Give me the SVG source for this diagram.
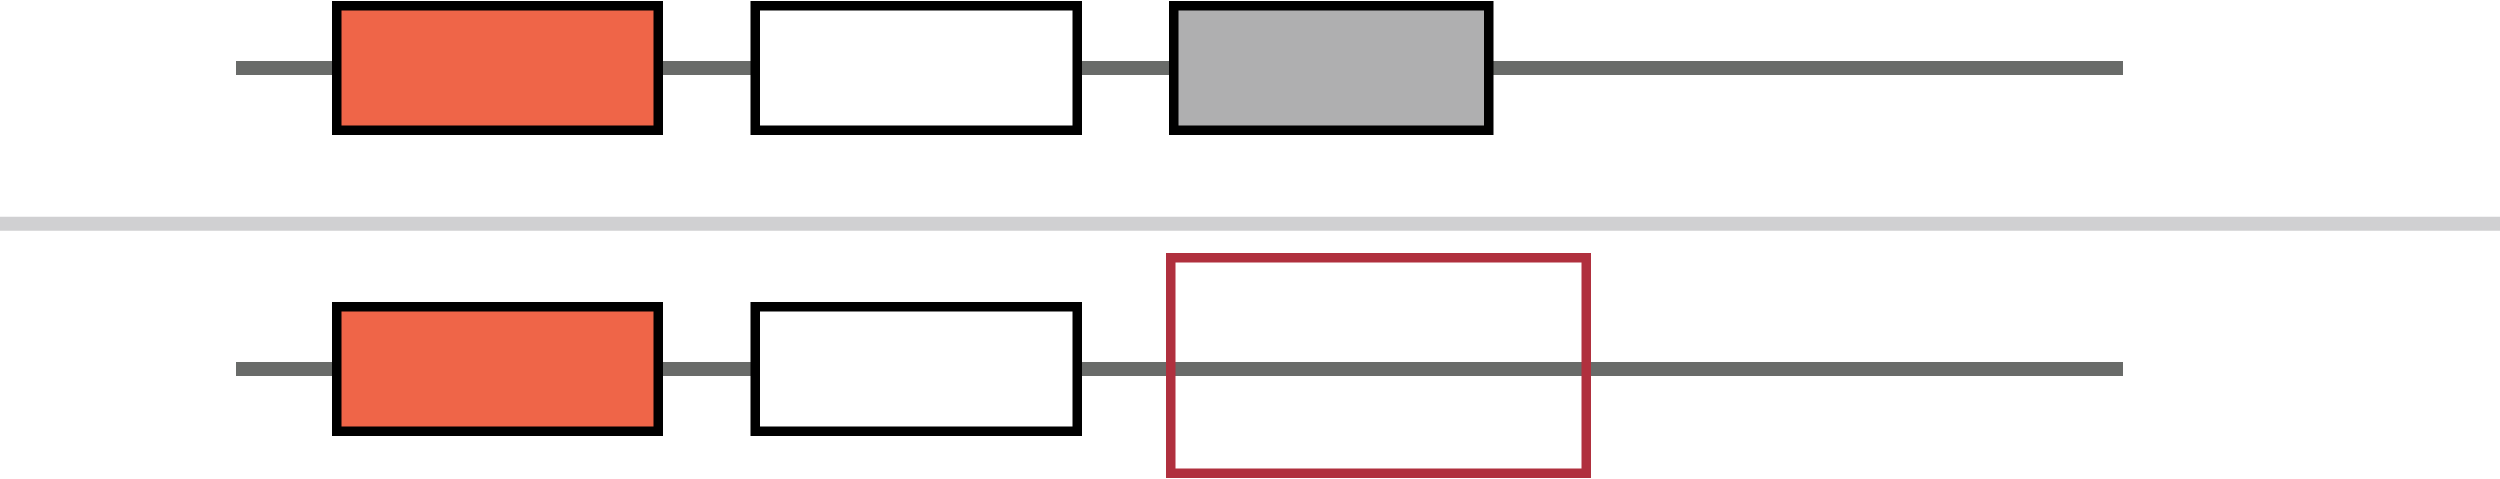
<svg xmlns="http://www.w3.org/2000/svg" width="2500" height="479" viewBox="0 0 2500 479">
  <style>
    .track { stroke: #696b69; stroke-width: 14; fill: none; }
    .sep { stroke: #d0d0d2; stroke-width: 14; fill: none; }
    .box { stroke: #000000; stroke-width: 9.5; }
    .red { fill: #ef6548; }
    .white { fill: #ffffff; }
    .gray { fill: #afafb0; }
    .hl { fill: none; stroke: #b0303e; stroke-width: 9.5; }
  </style>
  <rect x="0" y="0" width="2500" height="479" fill="#ffffff"/>
  <g id="connectors">
    <line class="track" x1="236" y1="68" x2="2123" y2="68"/>
    <line class="track" x1="236" y1="369" x2="2123" y2="369"/>
  </g>
  <line id="separator" class="sep" x1="0" y1="223.7" x2="2500" y2="223.7"/>
  <g id="top-red"><rect class="box red" x="336.75" y="5.75" width="321.5" height="124.5"/></g>
  <g id="top-white"><rect class="box white" x="755.25" y="5.75" width="322" height="124.5"/></g>
  <g id="top-gray"><rect class="box gray" x="1173.75" y="5.75" width="315" height="124.5"/></g>
  <g id="bottom-red"><rect class="box red" x="336.75" y="306.75" width="321.5" height="124.5"/></g>
  <g id="bottom-white"><rect class="box white" x="755.25" y="306.75" width="322" height="124.5"/></g>
  <g id="bottom-highlight"><rect class="hl" x="1170.75" y="257.75" width="415.5" height="215.5"/></g>
</svg>
